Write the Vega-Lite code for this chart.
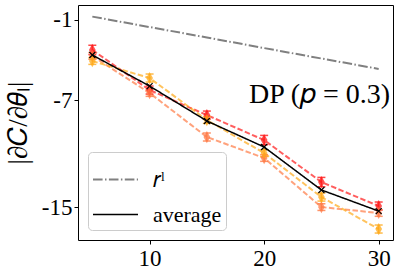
{
  "$schema": "https://vega.github.io/schema/vega-lite/v6.json",
  "width": 315,
  "height": 235,
  "autosize": "none",
  "padding": {"left": 78, "top": 5, "right": 6, "bottom": 38},
  "config": {
    "view": {"stroke": "black", "strokeWidth": 1},
    "font": "Liberation Serif",
    "axis": {"grid": false, "domain": false, "tickColor": "black", "tickSize": 4, "labelFont": "Liberation Serif", "labelFontSize": 23, "labelColor": "black", "titleFont": "Liberation Serif", "titleColor": "black", "titleFontWeight": "normal"},
    "legend": {"labelFont": "Liberation Serif", "labelFontSize": 22, "labelColor": "black"}
  },
  "datasets": {
    "series": [
      {"x": 5, "series": "red", "y": -3.24, "err": 0.35},
      {"x": 10, "series": "red", "y": -6.24, "err": 0.3},
      {"x": 15, "series": "red", "y": -8.11, "err": 0.3},
      {"x": 20, "series": "red", "y": -9.98, "err": 0.35},
      {"x": 25, "series": "red", "y": -13.12, "err": 0.35},
      {"x": 30, "series": "red", "y": -14.91, "err": 0.3},
      {"x": 5, "series": "coral", "y": -3.69, "err": 0.25},
      {"x": 10, "series": "coral", "y": -6.46, "err": 0.25},
      {"x": 15, "series": "coral", "y": -9.75, "err": 0.3},
      {"x": 20, "series": "coral", "y": -11.32, "err": 0.25},
      {"x": 25, "series": "coral", "y": -14.99, "err": 0.25},
      {"x": 30, "series": "coral", "y": -15.43, "err": 0.25},
      {"x": 5, "series": "orange", "y": -4.07, "err": 0.25},
      {"x": 10, "series": "orange", "y": -5.34, "err": 0.3},
      {"x": 15, "series": "orange", "y": -8.48, "err": 0.25},
      {"x": 20, "series": "orange", "y": -10.95, "err": 0.25},
      {"x": 25, "series": "orange", "y": -14.24, "err": 0.3},
      {"x": 30, "series": "orange", "y": -16.63, "err": 0.3}
    ],
    "ref": [
      {"x": 5, "name": "𝑟ˡ", "y": -0.75},
      {"x": 10, "name": "𝑟ˡ", "y": -1.53},
      {"x": 15, "name": "𝑟ˡ", "y": -2.31},
      {"x": 20, "name": "𝑟ˡ", "y": -3.10},
      {"x": 25, "name": "𝑟ˡ", "y": -3.88},
      {"x": 30, "name": "𝑟ˡ", "y": -4.66},
      {"x": 5, "name": "average", "y": -3.62},
      {"x": 10, "name": "average", "y": -5.94},
      {"x": 15, "name": "average", "y": -8.55},
      {"x": 20, "name": "average", "y": -10.50},
      {"x": 25, "name": "average", "y": -13.71},
      {"x": 30, "name": "average", "y": -15.29}
    ],
    "note": [{"label": "DP (𝑝 = 0.3)"}]
  },
  "layer": [
    {
      "data": {"name": "series"},
      "mark": {"type": "line", "strokeDash": [5.5, 2.4], "strokeWidth": 2, "opacity": 0.7},
      "encoding": {
        "x": {"field": "x", "type": "quantitative", "title": null, "scale": {"domain": [3.75, 31.25], "nice": false, "zero": false},
          "axis": {"values": [10, 20, 30], "title": null, "labelPadding": 3}},
        "y": {"field": "y", "type": "quantitative", "title": "|∂𝐶/∂𝜃ₗ|", "scale": {"domain": [-17.45, 0.12], "nice": false, "zero": false},
          "axis": {"values": [-1, -7, -15], "labelExpr": "'-' + abs(datum.value)", "title": "|∂𝐶/∂𝜃ₗ|", "titleFontSize": 27, "titlePadding": 9}},
        "color": {"field": "series", "type": "nominal", "scale": {"domain": ["red", "coral", "orange"], "range": ["#ff1a1a", "#ff7a45", "#ffaa1a"]}, "legend": null}
      }
    },
    {
      "data": {"name": "series"},
      "mark": {"type": "errorbar", "ticks": {"size": 8, "opacity": 0.8}, "rule": {"opacity": 0.8}, "thickness": 1.5},
      "encoding": {
        "x": {"field": "x", "type": "quantitative", "title": null},
        "y": {"field": "y", "type": "quantitative", "title": "|∂𝐶/∂𝜃ₗ|"},
        "yError": {"field": "err"},
        "color": {"field": "series", "type": "nominal", "legend": null}
      }
    },
    {
      "data": {"name": "series"},
      "mark": {"type": "point", "shape": "M0,-1L0.55,0L0,1L-0.55,0Z", "filled": true, "size": 150, "opacity": 0.75},
      "encoding": {
        "x": {"field": "x", "type": "quantitative", "title": null},
        "y": {"field": "y", "type": "quantitative", "title": "|∂𝐶/∂𝜃ₗ|"},
        "color": {"field": "series", "type": "nominal", "legend": null}
      }
    },
    {
      "data": {"name": "ref"},
      "mark": {"type": "line"},
      "encoding": {
        "x": {"field": "x", "type": "quantitative", "title": null},
        "y": {"field": "y", "type": "quantitative", "title": "|∂𝐶/∂𝜃ₗ|"},
        "stroke": {"field": "name", "type": "nominal", "scale": {"domain": ["𝑟ˡ", "average"], "range": ["#808080", "black"]},
          "legend": {"title": null, "orient": "bottom-left", "offset": 10, "symbolType": "stroke", "symbolSize": 2025, "symbolStrokeWidth": 2, "fillColor": "white", "strokeColor": "#cccccc", "cornerRadius": 4, "padding": 4, "rowPadding": -11, "labelOffset": 14}},
        "strokeDash": {"field": "name", "type": "nominal", "scale": {"domain": ["𝑟ˡ", "average"], "range": [[9.6, 2.4, 1.5, 2.4], [1, 0]]}},
        "strokeWidth": {"field": "name", "type": "nominal", "scale": {"domain": ["𝑟ˡ", "average"], "range": [2, 1.5]}, "legend": null}
      }
    },
    {
      "data": {"name": "ref"},
      "transform": [{"filter": "datum.name == 'average'"}],
      "mark": {"type": "point", "shape": "M-1,-1L1,1M1,-1L-1,1", "filled": false, "stroke": "black", "strokeWidth": 1.2, "size": 36, "opacity": 1},
      "encoding": {
        "x": {"field": "x", "type": "quantitative", "title": null},
        "y": {"field": "y", "type": "quantitative", "title": "|∂𝐶/∂𝜃ₗ|"}
      }
    },
    {
      "data": {"name": "note"},
      "mark": {"type": "text", "align": "right", "baseline": "middle", "fontSize": 28, "font": "Liberation Serif", "color": "black"},
      "encoding": {"x": {"datum": 31}, "y": {"datum": -6.6}, "text": {"field": "label"}}
    }
  ]
}
